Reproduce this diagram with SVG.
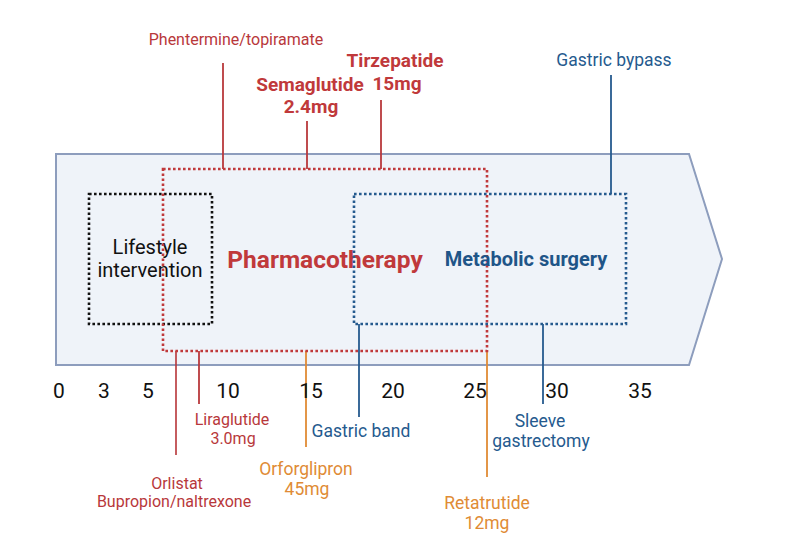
<svg xmlns="http://www.w3.org/2000/svg" width="795" height="557" viewBox="0 0 795 557">
<style>
text{font-family:Roboto,"Liberation Sans",sans-serif;text-anchor:middle}
.red{fill:#b8383b}.redb{fill:#c0393b;font-weight:bold}
.blue{fill:#255a8e}.blueb{fill:#1f5588;font-weight:bold}
.org{fill:#e08b35}
.lab{font-size:16px}
.lab2{font-size:17.5px}
.ax{font-size:21px;fill:#111}
.box{fill:none;stroke-width:2.6;stroke-dasharray:2.6 2.4}
.lr{stroke:#b8383b;stroke-width:1.8}
.lb{stroke:#255a8e;stroke-width:1.8}
.lo{stroke:#e08b35;stroke-width:1.8}
</style>
<rect width="795" height="557" fill="#fff"/>
<g id="timeline-arrow">
<path d="M56,154 L689,154 L722,259 L689,365 L56,365 Z" fill="#eff3f9" stroke="#8d9dbd" stroke-width="2"/>
</g>
<g id="connectors">
<line class="lr" x1="223" y1="63" x2="223" y2="169"/>
<line class="lr" x1="307" y1="121" x2="307" y2="169"/>
<line class="lr" x1="381" y1="100" x2="381" y2="169"/>
<line class="lb" x1="611" y1="75" x2="611" y2="194"/>
<line class="lr" x1="176" y1="351" x2="176" y2="455" opacity="0.9"/>
<line class="lr" x1="199" y1="351" x2="199" y2="404"/>
<line class="lo" x1="306" y1="351" x2="306" y2="447"/>
<line class="lb" x1="359" y1="324" x2="359" y2="417"/>
<line class="lo" x1="487" y1="351" x2="487" y2="477"/>
<line class="lb" x1="543" y1="324" x2="543" y2="404"/>
</g>
<g id="lifestyle">
<rect class="box" x="89" y="194" width="123" height="130" stroke="#111"/>
<text x="150" y="254" font-size="20" fill="#111">Lifestyle</text>
<text x="150" y="277" font-size="20" fill="#111">intervention</text>
</g>
<g id="pharmacotherapy">
<rect class="box" x="163" y="169" width="324" height="182" stroke="#c0393b"/>
<text class="redb" x="325" y="268" font-size="24.5">Pharmacotherapy</text>
</g>
<g id="surgery">
<rect class="box" x="354" y="194" width="272" height="130" stroke="#255a8e"/>
<text class="blueb" x="526" y="266" font-size="20">Metabolic surgery</text>
</g>
<g id="axis">
<text class="ax" x="59" y="398">0</text>
<text class="ax" x="104" y="398">3</text>
<text class="ax" x="148" y="398">5</text>
<text class="ax" x="228" y="398">10</text>
<text class="ax" x="311" y="398">15</text>
<text class="ax" x="393" y="398">20</text>
<text class="ax" x="475" y="398">25</text>
<text class="ax" x="557" y="398">30</text>
<text class="ax" x="640" y="398">35</text>
</g>
<g id="phentermine"><text class="red lab" x="236" y="45">Phentermine/topiramate</text></g>
<g id="semaglutide"><text class="redb" x="310" y="91" font-size="19">Semaglutide</text><text class="redb" x="311" y="113" font-size="19">2.4mg</text></g>
<g id="tirzepatide"><text class="redb" x="395" y="67" font-size="19">Tirzepatide</text><text class="redb" x="397" y="90" font-size="19">15mg</text></g>
<g id="gastric-bypass"><text class="blue lab2" x="614" y="66">Gastric bypass</text></g>
<g id="liraglutide"><text class="red lab" x="232" y="425">Liraglutide</text><text class="red lab" x="233" y="444">3.0mg</text></g>
<g id="gastric-band"><text class="blue lab2" x="361" y="437">Gastric band</text></g>
<g id="orforglipron"><text class="org lab2" x="306" y="475">Orforglipron</text><text class="org lab2" x="307" y="495">45mg</text></g>
<g id="orlistat"><text class="red lab" x="177" y="489">Orlistat</text><text class="red lab" x="174" y="507">Bupropion/naltrexone</text></g>
<g id="sleeve"><text class="blue lab2" x="540" y="427">Sleeve</text><text class="blue lab2" x="541" y="447">gastrectomy</text></g>
<g id="retatrutide"><text class="org lab2" x="487" y="509" font-size="17">Retatrutide</text><text class="org lab2" x="487" y="529">12mg</text></g>
</svg>
